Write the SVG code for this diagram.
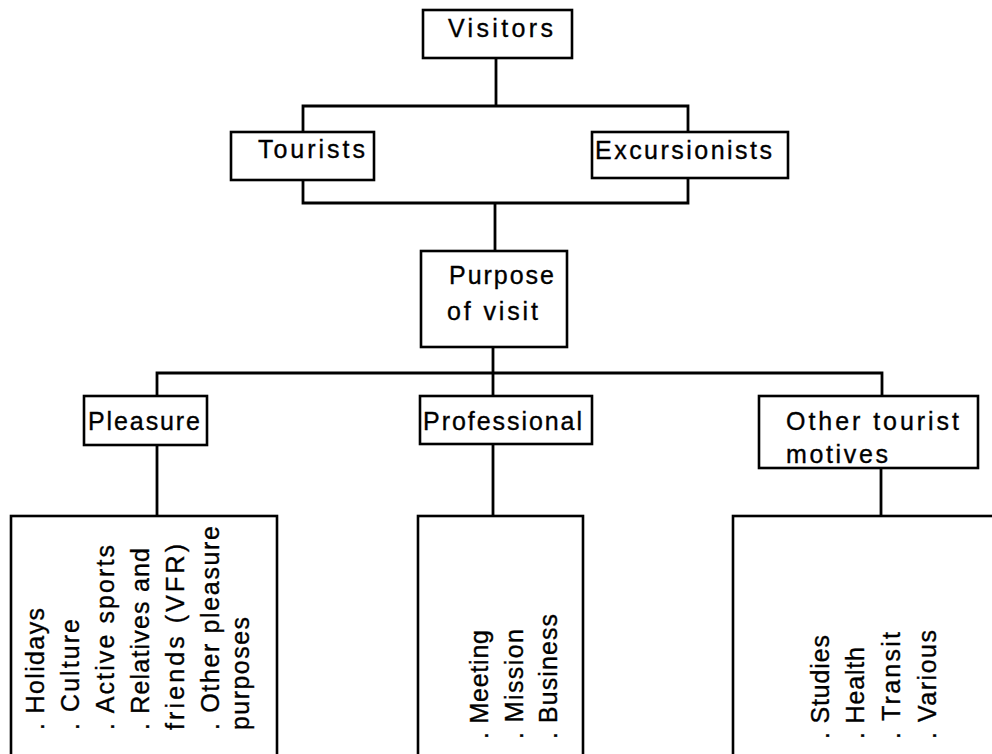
<svg xmlns="http://www.w3.org/2000/svg" width="992" height="754" viewBox="0 0 992 754">
<style>
.box{fill:#fff;stroke:#000;stroke-width:2.6}
.ln{fill:none;stroke:#000;stroke-width:2.8}
text{font-family:"Liberation Sans",Arial,Helvetica,sans-serif;font-size:25px;fill:#000;stroke:#000;stroke-width:0.35}
</style>
<rect width="992" height="754" fill="#fff"/>
<g id="connectors">
<path class="ln" d="M496 58V106M303 132V106H688V132"/>
<path class="ln" d="M303 180V203H688V178M495 203V251"/>
<path class="ln" d="M493 347V396M157 396V373H882V396"/>
<path class="ln" d="M157 445V516M493 444V516M881 468V516"/>
</g>
<g id="visitors">
<rect class="box" x="423" y="10" width="149" height="48"/>
<text x="448" y="37" textLength="105" lengthAdjust="spacing">Visitors</text>
</g>
<g id="tourists">
<rect class="box" x="231" y="132" width="143" height="48"/>
<text x="258" y="158" textLength="107" lengthAdjust="spacing">Tourists</text>
</g>
<g id="excursionists">
<rect class="box" x="592" y="132" width="196" height="46"/>
<text x="595" y="159" textLength="177" lengthAdjust="spacing">Excursionists</text>
</g>
<g id="purpose">
<rect class="box" x="421" y="251" width="146" height="96"/>
<text x="449" y="284" textLength="105" lengthAdjust="spacing">Purpose</text>
<text x="447" y="320" textLength="91" lengthAdjust="spacing">of  visit</text>
</g>
<g id="pleasure">
<rect class="box" x="84" y="396" width="123" height="49"/>
<text x="88" y="430" textLength="112" lengthAdjust="spacing">Pleasure</text>
</g>
<g id="professional">
<rect class="box" x="420" y="396" width="172" height="48"/>
<text x="423" y="430" textLength="159" lengthAdjust="spacing">Professional</text>
</g>
<g id="other">
<rect class="box" x="759" y="396" width="219" height="72"/>
<text x="786" y="430" textLength="173" lengthAdjust="spacing">Other  tourist</text>
<text x="786" y="463" textLength="102" lengthAdjust="spacing">motives</text>
</g>
<g id="pleasure-list">
<rect class="box" x="11" y="516" width="266" height="260"/>
<text transform="translate(44,730) rotate(-90)" textLength="122" lengthAdjust="spacing">. Holidays</text>
<text transform="translate(79,730) rotate(-90)" textLength="111" lengthAdjust="spacing">. Culture</text>
<text transform="translate(114,730) rotate(-90)" textLength="185" lengthAdjust="spacing">. Active  sports</text>
<text transform="translate(149,730) rotate(-90)" textLength="182" lengthAdjust="spacing">. Relatives and</text>
<text transform="translate(184,730) rotate(-90)" textLength="186" lengthAdjust="spacing">friends  (VFR)</text>
<text transform="translate(219,730) rotate(-90)" textLength="204" lengthAdjust="spacing">. Other pleasure</text>
<text transform="translate(249,730) rotate(-90)" textLength="113" lengthAdjust="spacing">purposes</text>
</g>
<g id="professional-list">
<rect class="box" x="418" y="516" width="165" height="260"/>
<text transform="translate(488,739) rotate(-90)" textLength="109" lengthAdjust="spacing">. Meeting</text>
<text transform="translate(523,739) rotate(-90)" textLength="110" lengthAdjust="spacing">. Mission</text>
<text transform="translate(557,739) rotate(-90)" textLength="125" lengthAdjust="spacing">. Business</text>
</g>
<g id="other-list">
<rect class="box" x="733" y="516" width="280" height="260"/>
<text transform="translate(829,739) rotate(-90)" textLength="104" lengthAdjust="spacing">. Studies</text>
<text transform="translate(864,739) rotate(-90)" textLength="92" lengthAdjust="spacing">. Health</text>
<text transform="translate(900,739) rotate(-90)" textLength="107" lengthAdjust="spacing">. Transit</text>
<text transform="translate(936,739) rotate(-90)" textLength="109" lengthAdjust="spacing">. Various</text>
</g>
</svg>
